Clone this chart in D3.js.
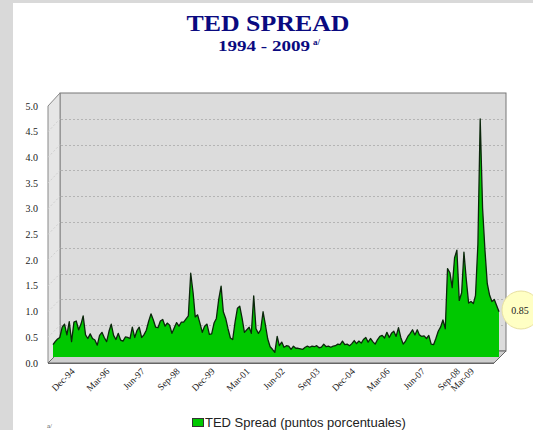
<!DOCTYPE html>
<html>
<head>
<meta charset="utf-8">
<script src="https://cdn.jsdelivr.net/npm/d3@7"></script>
<style>
  body { margin: 0; background: #fff; }
  svg { display: block; }
</style>
</head>
<body>
<script>
var width = 533;
var height = 430;

// TED spread, puntos porcentuales, una lectura por mes desde feb-1994
var inicio = "1994-02";
var tedSpread = [
  0.24, 0.30, 0.35, 0.38, 0.58, 0.64, 0.43, 0.69, 0.30, 0.68, 0.70,   // 1994
  0.53, 0.64, 0.80, 0.43, 0.36, 0.45, 0.36, 0.33, 0.23, 0.42, 0.48, 0.38, // 1995
  0.30, 0.50, 0.64, 0.42, 0.34, 0.46, 0.33, 0.31, 0.39, 0.38, 0.36, 0.58, // 1996
  0.38, 0.52, 0.58, 0.38, 0.43, 0.52, 0.69, 0.84, 0.72, 0.58, 0.57, 0.70, // 1997
  0.73, 0.60, 0.66, 0.62, 0.46, 0.57, 0.67, 0.60, 0.68, 0.68, 0.74, 0.80, // 1998
  1.63, 1.25, 0.78, 0.82, 0.66, 0.48, 0.60, 0.64, 0.44, 0.45, 0.66, 0.75, // 1999
  1.12, 1.38, 0.88, 0.75, 0.55, 0.37, 0.34, 0.68, 0.95, 0.99, 0.75, 0.48, // 2000
  0.53, 0.58, 0.46, 1.19, 0.55, 0.46, 0.53, 0.88, 0.62, 0.35, 0.20, 0.15, // 2001
  0.09, 0.40, 0.22, 0.29, 0.19, 0.22, 0.21, 0.15, 0.21, 0.17, 0.17, 0.16, // 2002
  0.15, 0.19, 0.21, 0.19, 0.21, 0.20, 0.22, 0.18, 0.19, 0.25, 0.20, 0.21, // 2003
  0.19, 0.21, 0.22, 0.25, 0.24, 0.31, 0.24, 0.25, 0.22, 0.26, 0.32, 0.26, // 2004
  0.31, 0.27, 0.34, 0.38, 0.29, 0.36, 0.30, 0.25, 0.34, 0.40, 0.42, 0.37, // 2005
  0.48, 0.38, 0.46, 0.50, 0.40, 0.57, 0.38, 0.25, 0.31, 0.40, 0.46, 0.53, // 2006
  0.43, 0.53, 0.43, 0.40, 0.41, 0.36, 0.42, 0.25, 0.24, 0.36, 0.50, 0.58, // 2007
  0.72, 0.55, 1.72, 1.64, 1.35, 1.93, 2.08, 1.10, 1.25, 2.04, 1.50, 1.05, // 2008
  1.08, 1.04, 1.20, 2.20, 4.63, 2.90, 2.10, 1.43, 1.20, 1.08, 1.12, 1.00, // 2009
  0.88
];
var ultimoValor = "0.85";

var etiquetasX = ["Dec-94", "Mar-96", "Jun-97", "Sep-98", "Dec-99", "Mar-01", "Jun-02",
                  "Sep-03", "Dec-04", "Mar-06", "Jun-07", "Sep-08", "Mar-09"];
var ticksY = [0, 0.5, 1, 1.5, 2, 2.5, 3, 3.5, 4, 4.5, 5];

var parseMes = d3.timeParse("%Y-%m");
var parseEtiqueta = d3.timeParse("%b-%y");
var mes0 = parseMes(inicio);
var datos = tedSpread.map(function(v, i) {
  return { fecha: d3.timeMonth.offset(mes0, i), valor: v };
});

var svg = d3.select('body')
  .append('svg')
  .attr('width', width)
  .attr('height', height);

// marco gris de la diapositiva
svg.append('rect').attr('x', 0).attr('y', 0).attr('width', width).attr('height', height).attr('fill', '#d9d9d9');
svg.append('rect').attr('x', 13).attr('y', 3).attr('width', width - 13).attr('height', height - 3).attr('fill', '#ffffff');

// titulos
svg.append('text')
  .attr('x', 268).attr('y', 31)
  .attr('text-anchor', 'middle')
  .attr('font-family', 'Liberation Serif, Times New Roman, serif')
  .attr('font-weight', 'bold')
  .attr('font-size', 24)
  .attr('fill', '#0a0a80')
  .attr('textLength', 163)
  .attr('lengthAdjust', 'spacingAndGlyphs')
  .text('TED SPREAD');

var sub = svg.append('text')
  .attr('x', 218).attr('y', 51)
  .attr('font-family', 'Liberation Serif, Times New Roman, serif')
  .attr('font-weight', 'bold')
  .attr('font-size', 14)
  .attr('fill', '#0a0a80');
sub.append('tspan').attr('textLength', 92).attr('lengthAdjust', 'spacingAndGlyphs').text('1994 - 2009');
sub.append('tspan').attr('dx', 3).attr('dy', -6).attr('font-size', 9).text('a/');

// escalas: plano trasero, plano de la serie y plano frontal
var x = d3.scaleTime()
  .domain([mes0, d3.timeMonth.offset(mes0, tedSpread.length - 1)])
  .range([53, 499]);
var yBack = d3.scaleLinear().domain([0, 5]).range([351, 93]);
var ySerie = d3.scaleLinear().domain([0, 5]).range([357, 100]);
var yFront = d3.scaleLinear().domain([0, 5]).range([363, 106]);

var backL = 60, backR = 506, dx = 12, dy = 12;

// pared trasera
svg.append('rect')
  .attr('x', backL).attr('y', yBack(5))
  .attr('width', backR - backL).attr('height', yBack(0) - yBack(5))
  .attr('fill', '#dcdcdc')
  .attr('stroke', '#777').attr('stroke-width', 1);

// pared izquierda
svg.append('polygon')
  .attr('points', [[backL - dx, yFront(5)], [backL, yBack(5)], [backL, yBack(0)], [backL - dx, yFront(0)]].join(' '))
  .attr('fill', '#e6e6e6')
  .attr('stroke', '#888').attr('stroke-width', 1);

// suelo
svg.append('polygon')
  .attr('points', [[backL - dx, yFront(0)], [backL, yBack(0)], [backR, yBack(0)], [backR - dx, yFront(0)]].join(' '))
  .attr('fill', '#cfcfcf')
  .attr('stroke', '#666').attr('stroke-width', 1);

// lineas de cuadricula
var grid = ticksY.filter(function(d) { return d > 0 && d < 5; });
svg.selectAll('line.grid')
  .data(grid)
  .enter().append('line')
  .attr('class', 'grid')
  .attr('x1', backL + 1).attr('x2', backR - 1)
  .attr('y1', function(d) { return Math.round(yBack(d)) + 0.5; })
  .attr('y2', function(d) { return Math.round(yBack(d)) + 0.5; })
  .attr('stroke', '#b4b4b4')
  .attr('stroke-dasharray', '2,2');

svg.selectAll('line.gridside')
  .data(grid)
  .enter().append('line')
  .attr('class', 'gridside')
  .attr('x1', backL - dx).attr('x2', backL)
  .attr('y1', function(d) { return yFront(d); })
  .attr('y2', function(d) { return yBack(d); })
  .attr('stroke', '#cfcfcf')
  .attr('stroke-dasharray', '2,2');

// serie
var area = d3.area()
  .x(function(d) { return x(d.fecha); })
  .y0(ySerie(0))
  .y1(function(d) { return ySerie(d.valor); });

var line = d3.line()
  .x(function(d) { return x(d.fecha); })
  .y(function(d) { return ySerie(d.valor); });

svg.append('path')
  .datum(datos)
  .attr('d', area)
  .attr('fill', '#00c800');

svg.append('path')
  .datum(datos)
  .attr('d', line)
  .attr('fill', 'none')
  .attr('stroke', '#0b260b')
  .attr('stroke-width', 1.3)
  .attr('stroke-linejoin', 'round');

// borde inferior del suelo por delante
svg.append('line')
  .attr('x1', backL - dx).attr('x2', backR - dx)
  .attr('y1', yFront(0) + 0.5).attr('y2', yFront(0) + 0.5)
  .attr('stroke', '#666');

// eje Y
svg.selectAll('text.ytick')
  .data(ticksY)
  .enter().append('text')
  .attr('class', 'ytick')
  .attr('x', 38)
  .attr('y', function(d) { return yFront(d) + 3.5; })
  .attr('text-anchor', 'end')
  .attr('font-family', 'Liberation Serif, Times New Roman, serif')
  .attr('font-size', 10)
  .attr('fill', '#222')
  .text(function(d) { return d3.format('.1f')(d); });

// eje X
svg.selectAll('text.xtick')
  .data(etiquetasX)
  .enter().append('text')
  .attr('class', 'xtick')
  .attr('transform', function(d) {
    return 'translate(' + (x(parseEtiqueta(d)) - 1) + ',372) rotate(-45)';
  })
  .attr('text-anchor', 'end')
  .attr('font-family', 'Liberation Serif, Times New Roman, serif')
  .attr('font-size', 9.5)
  .attr('fill', '#222')
  .text(function(d) { return d; });

// globo con el ultimo valor
svg.append('circle')
  .attr('cx', 521).attr('cy', 310).attr('r', 19)
  .attr('fill', '#ffffc4')
  .attr('stroke', '#e8e0a0');
svg.append('text')
  .attr('x', 520).attr('y', 313.5)
  .attr('text-anchor', 'middle')
  .attr('font-family', 'Liberation Serif, Times New Roman, serif')
  .attr('font-size', 10)
  .attr('fill', '#222')
  .text(ultimoValor);

// leyenda
svg.append('rect')
  .attr('x', 192.5).attr('y', 418.5).attr('width', 11).attr('height', 8)
  .attr('fill', '#00c800').attr('stroke', '#333');
svg.append('text')
  .attr('x', 205).attr('y', 427)
  .attr('font-family', 'Liberation Sans, Arial, sans-serif')
  .attr('font-size', 13)
  .attr('fill', '#222')
  .text('TED Spread (puntos porcentuales)');

svg.append('text')
  .attr('x', 47).attr('y', 428)
  .attr('font-family', 'Liberation Serif, Times New Roman, serif')
  .attr('font-size', 7)
  .attr('fill', '#555')
  .text('a/');
</script>
</body>
</html>
